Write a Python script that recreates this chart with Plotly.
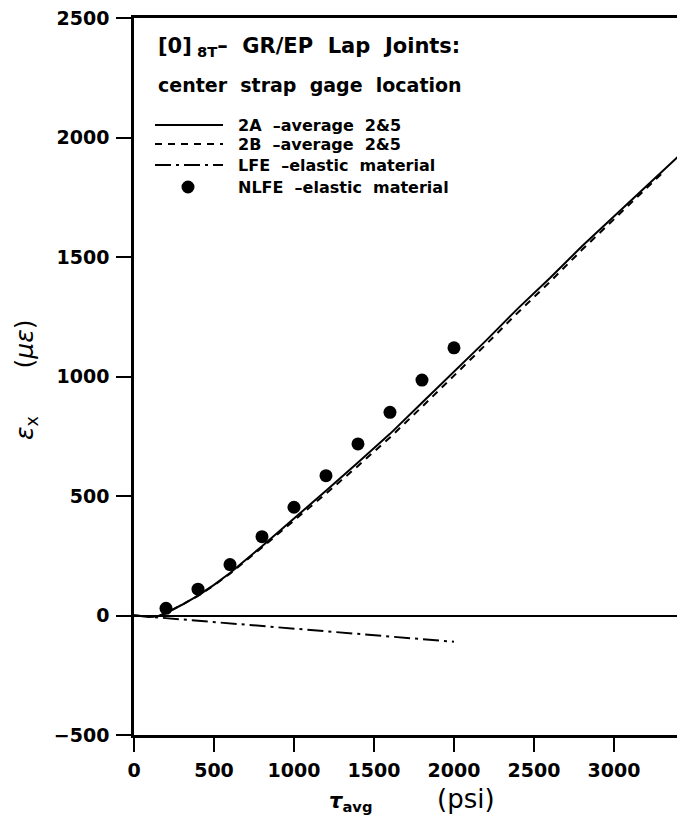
import plotly.graph_objects as go

# Average shear stress (psi) and strain (micro-strain) at the center strap gage
tau_2a = [0, 100, 150, 200, 300, 400, 500, 600, 800, 1000, 1200, 1400, 1600,
          1800, 2000, 2200, 2400, 2600, 2800, 3000, 3200, 3400]
eps_2a = [0, -5, -3, 10, 45, 83, 128, 178, 290, 405, 522, 640, 760,
          890, 1018, 1150, 1285, 1412, 1545, 1670, 1795, 1920]

tau_2b = [0, 100, 150, 200, 300, 400, 500, 600, 800, 1000, 1200, 1400, 1600,
          1800, 2000, 2200, 2400, 2600, 2800, 3000, 3200, 3300]
eps_2b = [0, -5, -3, 10, 45, 82, 126, 175, 285, 397, 510, 626, 745,
          873, 1002, 1134, 1268, 1396, 1530, 1658, 1790, 1850]

tau_lfe = [0, 200, 400, 600, 800, 1000, 1200, 1400, 1600, 1800, 2000]
eps_lfe = [0, -11, -22, -33, -44, -55, -66, -77, -88, -99, -110]

tau_nlfe = [200, 400, 600, 800, 1000, 1200, 1400, 1600, 1800, 2000]
eps_nlfe = [30, 110, 213, 330, 453, 585, 718, 850, 985, 1120]

x_ticks = [0, 500, 1000, 1500, 2000, 2500, 3000]
y_ticks = [-500, 0, 500, 1000, 1500, 2000, 2500]

legend_rows = [
    ("2A&nbsp;&nbsp;–average&nbsp;&nbsp;2&amp;5", "solid"),
    ("2B&nbsp;&nbsp;–average&nbsp;&nbsp;2&amp;5", "7px,6px"),
    ("LFE&nbsp;&nbsp;–elastic&nbsp;&nbsp;material", "16px,5px,3px,5px"),
    ("NLFE&nbsp;&nbsp;–elastic&nbsp;&nbsp;material", "dot"),
]

FONT = "DejaVu Sans"
W, H = 677, 822
L, R, T, B = 134, 0, 18, 87
PW, PH = W - L - R, H - T - B


def px(x):
    return (x - L) / PW


def py(y):
    return (H - B - y) / PH


def txt(size, weight="bold"):
    return dict(family=FONT, size=size, color="black", weight=weight)


fig = go.Figure()
fig.add_trace(go.Scatter(x=tau_2a, y=eps_2a, mode="lines",
                         line=dict(color="black", width=2), name="2A"))
fig.add_trace(go.Scatter(x=tau_2b, y=eps_2b, mode="lines",
                         line=dict(color="black", width=2, dash="7px,6px"), name="2B"))
fig.add_trace(go.Scatter(x=tau_lfe, y=eps_lfe, mode="lines",
                         line=dict(color="black", width=2, dash="16px,5px,3px,5px"), name="LFE"))
fig.add_trace(go.Scatter(x=tau_nlfe, y=eps_nlfe, mode="markers",
                         marker=dict(color="black", size=13), name="NLFE"))

# Hand-drawn key inside the plot area
shapes = []
annotations = []
row_y = [125, 144, 165, 187]
for (label, dash), yy in zip(legend_rows, row_y):
    if dash == "dot":
        r = 6.5
        shapes.append(dict(type="circle", xref="paper", yref="paper",
                           x0=px(188 - r), x1=px(188 + r), y0=py(yy + r), y1=py(yy - r),
                           fillcolor="black", line=dict(color="black", width=0)))
    else:
        shapes.append(dict(type="line", xref="paper", yref="paper",
                           x0=px(155), x1=px(223), y0=py(yy), y1=py(yy),
                           line=dict(color="black", width=2, dash=dash)))
    annotations.append(dict(xref="paper", yref="paper", x=px(236), y=py(yy),
                            xanchor="left", yanchor="middle", showarrow=False,
                            text=label, font=txt(16)))

annotations.append(dict(xref="paper", yref="paper", x=px(156), y=py(47),
                        xanchor="left", yanchor="middle", showarrow=False,
                        text="[0]<sub>&nbsp;8T</sub>–&nbsp;&nbsp;GR/EP&nbsp;&nbsp;Lap&nbsp;&nbsp;Joints:",
                        font=txt(21)))
annotations.append(dict(xref="paper", yref="paper", x=px(156), y=py(85),
                        xanchor="left", yanchor="middle", showarrow=False,
                        text="center&nbsp;&nbsp;strap&nbsp;&nbsp;gage&nbsp;&nbsp;location",
                        font=txt(19)))

# Axis titles
annotations.append(dict(xref="paper", yref="paper", x=px(350), y=py(802),
                        xanchor="center", yanchor="middle", showarrow=False,
                        text="<i>τ</i><sub>avg</sub>", font=txt(21)))
annotations.append(dict(xref="paper", yref="paper", x=px(466), y=py(799),
                        xanchor="center", yanchor="middle", showarrow=False,
                        text="(psi)", font=txt(26, "normal")))
annotations.append(dict(xref="paper", yref="paper", x=px(26), y=py(380),
                        xanchor="center", yanchor="middle", showarrow=False,
                        textangle=-90,
                        text="<i>ε</i><sub>x</sub>&nbsp;&nbsp;&nbsp;&nbsp;&nbsp;&nbsp;(<i>με</i>)",
                        font=txt(25, "normal")))

axis_font = txt(19)

fig.update_layout(
    width=W, height=H,
    margin=dict(l=L, r=R, t=T, b=B, autoexpand=False),
    paper_bgcolor="white", plot_bgcolor="white",
    showlegend=False,
    shapes=shapes,
    annotations=annotations,
    xaxis=dict(range=[0, 3394], tickvals=x_ticks, ticks="outside", ticklen=14,
               tickwidth=2, tickcolor="black", showline=True, linecolor="black",
               linewidth=2.5, mirror=True, showgrid=False, zeroline=False,
               tickfont=axis_font, ticklabelstandoff=2),
    yaxis=dict(range=[-500, 2500], tickvals=y_ticks, ticks="outside", ticklen=15,
               tickwidth=2, tickcolor="black", showline=True, linecolor="black",
               linewidth=2.5, showgrid=False, zeroline=True, zerolinecolor="black",
               zerolinewidth=2, tickfont=axis_font, ticklabelstandoff=3),
)

fig.write_html("out.html")
